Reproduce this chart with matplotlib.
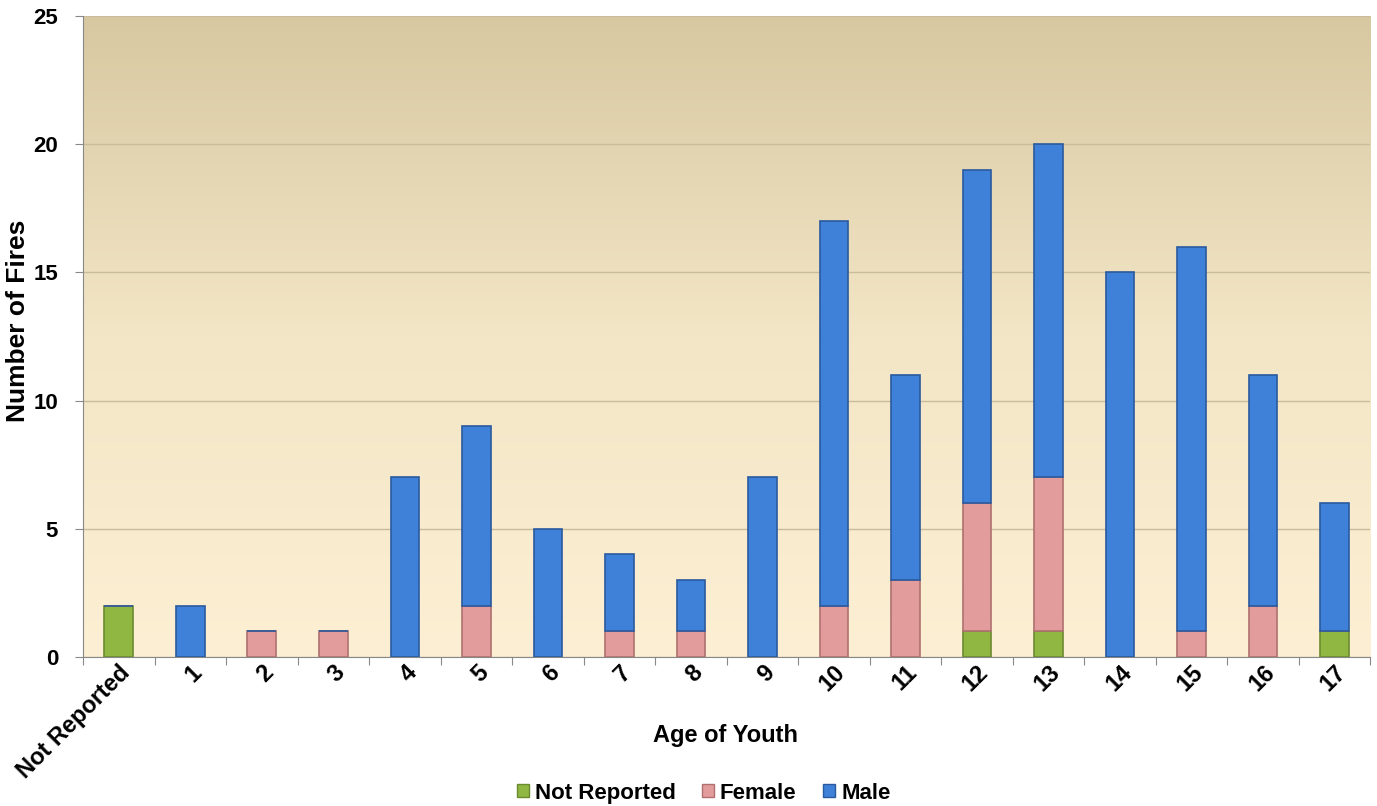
import numpy as np
import matplotlib.pyplot as plt
from matplotlib.colors import LinearSegmentedColormap
from matplotlib.patches import Patch

plt.rcParams['font.family'] = ['Liberation Sans', 'DejaVu Sans']
plt.rcParams['font.weight'] = 'bold'

ages = ['Not Reported', '1', '2', '3', '4', '5', '6', '7', '8', '9',
        '10', '11', '12', '13', '14', '15', '16', '17']
not_reported = [2, 0, 0, 0, 0, 0, 0, 0, 0, 0, 0, 0, 1, 1, 0, 0, 0, 1]
female = [0, 0, 1, 1, 0, 2, 0, 1, 1, 0, 2, 3, 5, 6, 0, 1, 2, 0]
male = [0, 2, 0, 0, 7, 7, 5, 3, 2, 7, 15, 8, 13, 13, 15, 15, 9, 5]

fig = plt.figure(figsize=(13.77, 8.06), dpi=100)
ax = fig.add_axes([0.0603, 0.185, 0.9347, 0.795])

x = np.arange(len(ages))
nr = np.array(not_reported)
fe = np.array(female)
ma = np.array(male)

# background gradient (dark at top, light at bottom)
cmap = LinearSegmentedColormap.from_list('bg', ['#fcefd3', '#f3e6c6', '#d7c8a1'])
grad = np.linspace(0, 1, 256).reshape(-1, 1)
ax.imshow(grad, cmap=cmap, aspect='auto', origin='lower',
          extent=[-0.5, len(ages) - 0.5, 0, 25], zorder=0)

w = 0.4
ax.bar(x, nr, w, color='#8fb742', edgecolor='#6b8a30', linewidth=1.2, zorder=3)
ax.bar(x, fe, w, bottom=nr, color='#e39c9c', edgecolor='#b07070', linewidth=1.2, zorder=3)
ax.bar(x, ma, w, bottom=nr + fe, color='#3f80d8', edgecolor='#2a5a9e', linewidth=1.2, zorder=3)

ax.set_xlim(-0.5, len(ages) - 0.5)
ax.set_ylim(0, 25)
ax.set_yticks([0, 5, 10, 15, 20, 25])
ax.yaxis.grid(True, color='#c8bc9c', linewidth=1)
for gl in ax.yaxis.get_gridlines():
    gl.set_zorder(1)

ax.set_xticks(np.arange(-0.5, len(ages), 1))
ax.set_xticklabels([])
ax.set_xticks(x, minor=True)
ax.set_xticklabels(ages, minor=True, rotation=45, ha='right', va='top',
                   rotation_mode='anchor', fontsize=17, fontweight='bold')
ax.tick_params(axis='x', which='minor', length=0, pad=3)
ax.tick_params(axis='x', which='major', length=6, color='#888888', direction='out')
ax.tick_params(axis='y', length=6, color='#888888', labelsize=16, pad=12)
for lab in ax.get_yticklabels():
    lab.set_fontweight('bold')

for s in ['top', 'right']:
    ax.spines[s].set_visible(False)
for s in ['left', 'bottom']:
    ax.spines[s].set_color('#888888')

fig.text(0.013, 0.602, 'Number of Fires', rotation=90, ha='center', va='center',
         fontsize=19, fontweight='bold')
fig.text(0.527, 0.088, 'Age of Youth', ha='center', va='center',
         fontsize=17, fontweight='bold')

handles = [Patch(facecolor='#8fb742', edgecolor='#6b8a30', label='Not Reported'),
           Patch(facecolor='#e39c9c', edgecolor='#b07070', label='Female'),
           Patch(facecolor='#3f80d8', edgecolor='#2a5a9e', label='Male')]
fig.legend(handles=handles, loc='center', bbox_to_anchor=(0.511, 0.016), ncol=3,
           frameon=False, handlelength=0.55, handleheight=0.55,
           handletextpad=0.25, columnspacing=1.2, prop={'weight': 'bold', 'size': 16})

fig.savefig('out.png', dpi=100)
